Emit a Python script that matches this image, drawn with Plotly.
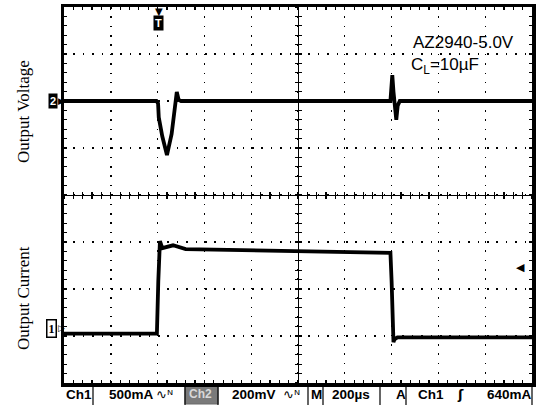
import plotly.graph_objects as go

# ---- data (read from the scope capture) ----
time_v_us = [-400, -5, 2, 5, 20, 40, 60, 75, 82, 90, 100, 995, 998, 1003, 1008, 1012, 1020, 1026, 1035, 1600]
volt_mv   = [0, 0, -10, -70, -150, -230, -140, -20, 38, 5, 0, 0, 60, 110, 40, -20, -80, -20, 0, 0]

time_i_us = [-400, -3, 3, 10, 20, 66, 120, 400, 700, 995, 1000, 1008, 1012, 1025, 1600]
curr_ma   = [-60, -60, 500, 925, 850, 880, 840, 830, 820, 800, 500, -150, -120, -100, -100]

trigger_level_ma = 640
time_range = [-400, 1600]       # 200 us/div, 10 div
volt_range = [-1200, 400]       # 200 mV/div, 8 div
curr_range = [-585, 3415]       # 500 mA/div, 8 div

title_lines = ["AZ2940-5.0V", "C<sub>L</sub>=10\u00b5F"]
status = {"ch1_scale": "500mA", "ch2_scale": "200mV", "time_scale": "200\u00b5s", "trig": "640mA"}

# ---- layout helpers (pixel -> paper), plot area 64..532 x 7..383 ----
L, R, T, B = 64, 532, 7, 383
def px(x):
    return (x - L) / (R - L)
def py(y):
    return (B - y) / (B - T)

fig = go.Figure()
fig.add_trace(go.Scatter(x=time_v_us, y=volt_mv, mode="lines", line=dict(color="black", width=3.8),
                         xaxis="x", yaxis="y", hoverinfo="skip"))
fig.add_trace(go.Scatter(x=time_i_us, y=curr_ma, mode="lines", line=dict(color="black", width=3.8),
                         xaxis="x", yaxis="y2", hoverinfo="skip"))
# empty traces so the centre-cross axes get drawn
for xa, ya in [("x", "y3"), ("x", "y4"), ("x2", "y"), ("x3", "y")]:
    fig.add_trace(go.Scatter(x=[], y=[], xaxis=xa, yaxis=ya, showlegend=False, hoverinfo="skip"))

frame_x = dict(range=time_range, showticklabels=False, zeroline=False,
               showline=True, linewidth=3.5, linecolor="black", mirror="ticks",
               ticks="inside", ticklen=3, tickwidth=1.2, tickcolor="black", dtick=200, tick0=-400,
               showgrid=True, gridcolor="black", gridwidth=1.4, griddash="1.6px,7.76px",
               minor=dict(dtick=40, tick0=-400, ticks="inside", ticklen=3, tickwidth=1.2,
                          tickcolor="black", showgrid=False),
               fixedrange=True)
frame_y = dict(range=volt_range, showticklabels=False, zeroline=False,
               showline=True, linewidth=3.5, linecolor="black", mirror="ticks",
               ticks="inside", ticklen=3, tickwidth=1.2, tickcolor="black", dtick=200, tick0=-1200,
               showgrid=True, gridcolor="black", gridwidth=1.4, griddash="1.6px,7.8px",
               minor=dict(dtick=40, tick0=-1200, ticks="inside", ticklen=3, tickwidth=1.2,
                          tickcolor="black", showgrid=False),
               fixedrange=True)

def centre_x(ticks, line):
    return dict(range=time_range, overlaying="x", anchor="free", position=0.5, side="bottom",
                showticklabels=False, showgrid=False, zeroline=False,
                showline=line, linewidth=1, linecolor="black",
                ticks=ticks, ticklen=3, tickwidth=1.2, tickcolor="black", dtick=40, tick0=-400,
                fixedrange=True)

def centre_y(ticks, line):
    return dict(range=volt_range, overlaying="y", anchor="free", position=0.5, side="left",
                showticklabels=False, showgrid=False, zeroline=False,
                showline=line, linewidth=1, linecolor="black",
                ticks=ticks, ticklen=3, tickwidth=1.2, tickcolor="black", dtick=40, tick0=-1200,
                fixedrange=True)

fig.update_layout(
    width=539, height=405,
    margin=dict(l=L, r=539 - R, t=T, b=405 - B, autoexpand=False),
    paper_bgcolor="white", plot_bgcolor="white",
    showlegend=False,
    xaxis=frame_x,
    yaxis=frame_y,
    yaxis2=dict(range=curr_range, overlaying="y", visible=False, fixedrange=True),
    xaxis2=centre_x("outside", True),
    xaxis3=centre_x("inside", False),
    yaxis3=centre_y("outside", True),
    yaxis4=centre_y("inside", False),
)

ann = []
sans = "Liberation Sans, Arial, sans-serif"
serif = "Liberation Serif, Times New Roman, serif"

# title text
ann.append(dict(text=title_lines[0], xref="paper", yref="paper", x=px(411), y=py(43),
                xanchor="left", yanchor="middle", showarrow=False,
                font=dict(family=sans, size=17, color="black")))
ann.append(dict(text=title_lines[1], xref="paper", yref="paper", x=px(409), y=py(66),
                xanchor="left", yanchor="middle", showarrow=False,
                font=dict(family=sans, size=17, color="black")))

# side labels
ann.append(dict(text="Output Voltage", xref="paper", yref="paper", x=px(23), y=py(112),
                textangle=-90, xanchor="center", yanchor="middle", showarrow=False,
                font=dict(family=serif, size=17, color="black")))
ann.append(dict(text="Output Current", xref="paper", yref="paper", x=px(23), y=py(298),
                textangle=-90, xanchor="center", yanchor="middle", showarrow=False,
                font=dict(family=serif, size=17, color="black")))

# trigger position marker
ann.append(dict(text="\u25bc", xref="x", yref="paper", x=0, y=1, yshift=3, xshift=1,
                xanchor="center", yanchor="top", showarrow=False,
                font=dict(family="DejaVu Sans", size=10, color="black")))
ann.append(dict(text="<b>T</b>", xref="x", yref="paper", x=0, y=1, yshift=-8, xshift=1,
                xanchor="center", yanchor="top", showarrow=False, bgcolor="black", borderpad=1,
                font=dict(family=sans, size=11, color="white")))

# channel ground markers
ann.append(dict(text="<b>2</b>", xref="paper", yref="y", x=px(58), y=0,
                xanchor="right", yanchor="middle", showarrow=False, bgcolor="black", borderpad=1,
                font=dict(family=sans, size=11, color="white")))
ann.append(dict(text="\u25b6", xref="paper", yref="y", x=px(56), y=0,
                xanchor="left", yanchor="middle", showarrow=False,
                font=dict(family="DejaVu Sans", size=9, color="black")))
ann.append(dict(text="<b>1</b>", xref="paper", yref="y2", x=px(57), y=0,
                xanchor="right", yanchor="middle", showarrow=False, bgcolor="white",
                bordercolor="black", borderwidth=1.5, borderpad=1,
                font=dict(family=serif, size=12, color="black")))
ann.append(dict(text="\u25b7", xref="paper", yref="y2", x=px(56), y=0,
                xanchor="left", yanchor="middle", showarrow=False,
                font=dict(family="DejaVu Sans", size=9, color="black")))

# trigger level marker
ann.append(dict(text="\u25c0", xref="paper", yref="y2", x=1, xshift=-5, y=trigger_level_ma,
                xanchor="right", yanchor="middle", showarrow=False,
                font=dict(family="DejaVu Sans", size=11, color="black")))

# status bar
sb_y = py(394)
def sb(text, x, anchor="left", size=13.5, color="black", family=sans):
    ann.append(dict(text=text, xref="paper", yref="paper", x=px(x), y=sb_y,
                    xanchor=anchor, yanchor="middle", showarrow=False,
                    font=dict(family=family, size=size, color=color)))

sb("<b>Ch1</b>", 64)
sb("<b>" + status["ch1_scale"] + "</b>", 107)
sb("\u223f\u1d3a", 154, size=13, family="DejaVu Sans")
sb("<b>Ch2</b>", 187, size=12, color="#d8d8d8")
sb("<b>" + status["ch2_scale"] + "</b>", 230)
sb("\u223f\u1d3a", 281, size=13, family="DejaVu Sans")
sb("<b>M</b>", 309)
sb("<b>" + status["time_scale"] + "</b>", 351, anchor="center")
sb("<b>A</b>", 394)
sb("<b>Ch1</b>", 416)
sb("<b>\u0283</b>", 455, family="DejaVu Sans", size=13)
sb("<b>" + status["trig"] + "</b>", 534, anchor="right")

shapes = []
for x0, x1 in [(93, 185), (218, 308), (323, 380), (406, 532)]:
    shapes.append(dict(type="rect", xref="paper", yref="paper", x0=px(x0), x1=px(x1),
                       y0=py(412), y1=py(385.5), line=dict(color="black", width=1.2),
                       fillcolor="rgba(0,0,0,0)"))
shapes.append(dict(type="rect", xref="paper", yref="paper", x0=px(185), x1=px(218),
                   y0=py(404), y1=py(386), line=dict(color="#6a6a6a", width=1),
                   fillcolor="#7a7a7a", layer="below"))

fig.update_layout(annotations=ann, shapes=shapes)
fig.write_html("out.html", config={"displayModeBar": False, "staticPlot": True},
               post_script="document.body.style.margin='0';document.body.style.overflow='hidden';")
